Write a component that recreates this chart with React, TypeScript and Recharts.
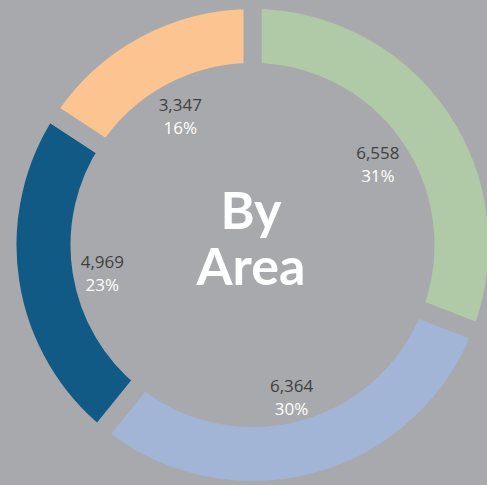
import React from 'react';
import { PieChart, Pie, Cell } from 'recharts';

const areas = ['Area A', 'Area B', 'Area C', 'Area D'];
const counts = [6558, 6364, 4969, 3347];
const COLORS = ['#b0c9a6', '#a2b5d6', '#105a85', '#fbc490'];
const BG = '#a8a9ac';

const data = areas.map((name, i) => ({ name, value: counts[i] }));

const RADIAN = Math.PI / 180;

function renderLabel(props: any) {
  const { cx, cy, midAngle, value, percent } = props;
  const r = 152;
  const x = cx + r * Math.cos(-midAngle * RADIAN);
  const y = cy + r * Math.sin(-midAngle * RADIAN);
  return (
    <g>
      <text x={x} y={y} textAnchor="middle" fill="#404042" fontSize={17} fontFamily="'Open Sans', sans-serif" fontWeight={400}>
        {value.toLocaleString('en-US')}
      </text>
      <text x={x} y={y + 23} textAnchor="middle" fill="#ffffff" fontSize={17} fontFamily="'Open Sans', sans-serif" fontWeight={400}>
        {`${Math.round(percent * 100)}%`}
      </text>
    </g>
  );
}

export default function App() {
  return (
    <div style={{ position: 'absolute', left: 0, top: 0, width: 487, height: 485, background: BG, overflow: 'hidden' }}>
      <PieChart width={487} height={485} margin={{ top: 0, right: 0, bottom: 0, left: 0 }}>
        <Pie
          data={data}
          dataKey="value"
          cx={252.5}
          cy={245}
          startAngle={90}
          endAngle={-270}
          innerRadius={173}
          outerRadius={245}
          stroke={BG}
          strokeWidth={18}
          labelLine={false}
          label={renderLabel}
          isAnimationActive={false}
        >
          {data.map((entry, index) => (
            <Cell key={`cell-${index}`} fill={COLORS[index]} />
          ))}
        </Pie>
      </PieChart>
      <div
        style={{
          position: 'absolute',
          left: 0,
          width: 502,
          top: 181,
          textAlign: 'center',
          color: '#ffffff',
          fontFamily: 'Lato, sans-serif',
          fontWeight: 700,
          fontSize: 52,
          lineHeight: '56px',
        }}
      >
        By
        <br />
        Area
      </div>
    </div>
  );
}
